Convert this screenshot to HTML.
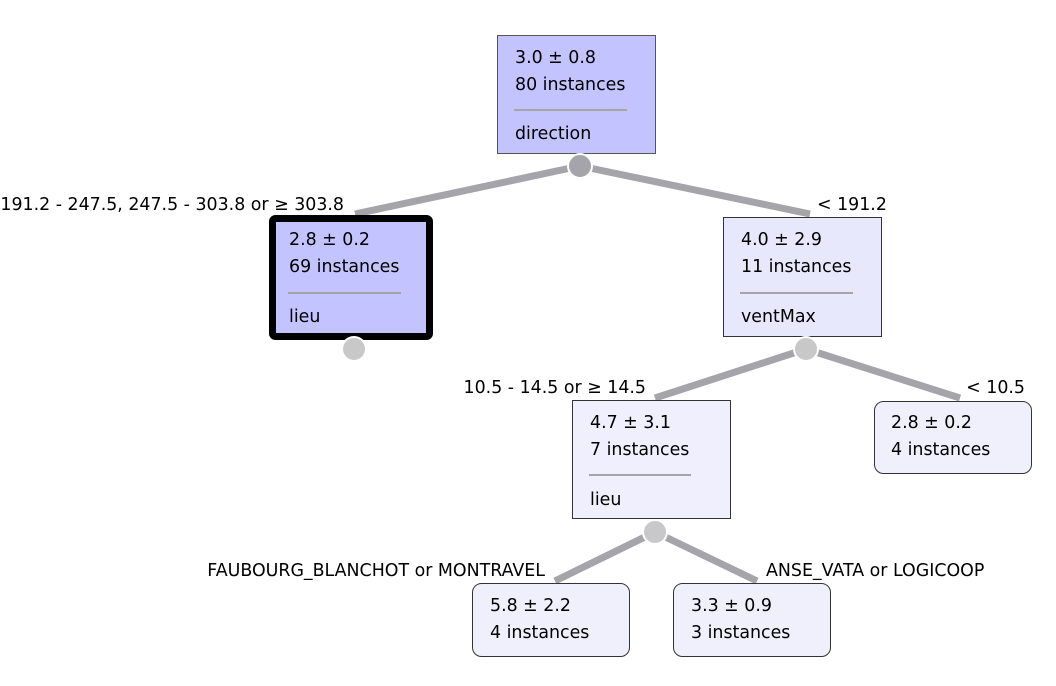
<!DOCTYPE html>
<html><head><meta charset="utf-8"><style>
html,body{margin:0;padding:0;background:#fff;}
svg{display:block;}
text{font-family:"DejaVu Sans","Liberation Sans",sans-serif;font-size:17.4px;fill:#000;}
</style></head><body>
<svg width="1056" height="686" viewBox="0 0 1056 686" xmlns="http://www.w3.org/2000/svg">
<g stroke="#a4a4aa" stroke-width="7" stroke-linecap="butt">
<line x1="580" y1="166" x2="355" y2="214"/>
<line x1="580" y1="166" x2="810" y2="214"/>
<line x1="806" y1="349" x2="655" y2="398"/>
<line x1="806" y1="349" x2="960" y2="398"/>
<line x1="655" y1="532" x2="555" y2="581"/>
<line x1="655" y1="532" x2="757" y2="581"/>
</g>
<rect x="497.5" y="35.5" width="158" height="118" fill="#c3c3ff" stroke="#555" stroke-width="1"/>
<text x="515" y="63">3.0 ± 0.8</text>
<text x="515" y="90">80 instances</text>
<line x1="514" y1="110" x2="627" y2="110" stroke="#a4a4aa" stroke-width="2"/>
<text x="515" y="139">direction</text>
<circle cx="580" cy="166" r="12" fill="#a4a4aa" stroke="#fff" stroke-width="2"/>
<rect x="272.5" y="218.5" width="157" height="118" rx="3" fill="#c3c3ff" stroke="#000" stroke-width="7"/>
<text x="289" y="245">2.8 ± 0.2</text>
<text x="289" y="272">69 instances</text>
<line x1="288" y1="293" x2="401" y2="293" stroke="#a4a4aa" stroke-width="2"/>
<text x="289" y="322">lieu</text>
<circle cx="354" cy="349" r="12" fill="#c8c8c8" stroke="#fff" stroke-width="2"/>
<rect x="723.5" y="217.5" width="158" height="119" fill="#e8e8fd" stroke="#333" stroke-width="1"/>
<text x="741" y="245">4.0 ± 2.9</text>
<text x="741" y="272">11 instances</text>
<line x1="740" y1="293" x2="853" y2="293" stroke="#a4a4aa" stroke-width="2"/>
<text x="741" y="322">ventMax</text>
<circle cx="806" cy="349" r="12" fill="#c8c8c8" stroke="#fff" stroke-width="2"/>
<rect x="572.5" y="400.5" width="158" height="118" fill="#efeffd" stroke="#333" stroke-width="1"/>
<text x="590" y="428">4.7 ± 3.1</text>
<text x="590" y="455">7 instances</text>
<line x1="589" y1="475" x2="691" y2="475" stroke="#a4a4aa" stroke-width="2"/>
<text x="590" y="505">lieu</text>
<circle cx="655" cy="532" r="12" fill="#c8c8c8" stroke="#fff" stroke-width="2"/>
<rect x="874.5" y="401.5" width="157" height="72" rx="9" fill="#f0f0fc" stroke="#333" stroke-width="1"/>
<text x="891" y="428">2.8 ± 0.2</text>
<text x="891" y="455">4 instances</text>
<rect x="472.5" y="583.5" width="157" height="73" rx="9" fill="#f0f0fc" stroke="#333" stroke-width="1"/>
<text x="490" y="611">5.8 ± 2.2</text>
<text x="490" y="638">4 instances</text>
<rect x="673.5" y="583.5" width="157" height="73" rx="9" fill="#f0f0fc" stroke="#333" stroke-width="1"/>
<text x="691" y="611">3.3 ± 0.9</text>
<text x="691" y="638">3 instances</text>
<text x="344" y="210" text-anchor="end">191.2 - 247.5, 247.5 - 303.8 or ≥ 303.8</text>
<text x="817" y="210">&lt; 191.2</text>
<text x="646" y="393" text-anchor="end">10.5 - 14.5 or ≥ 14.5</text>
<text x="1025" y="393" text-anchor="end">&lt; 10.5</text>
<text x="545" y="576" text-anchor="end">FAUBOURG_BLANCHOT or MONTRAVEL</text>
<text x="766" y="576">ANSE_VATA or LOGICOOP</text>
</svg>
</body></html>
